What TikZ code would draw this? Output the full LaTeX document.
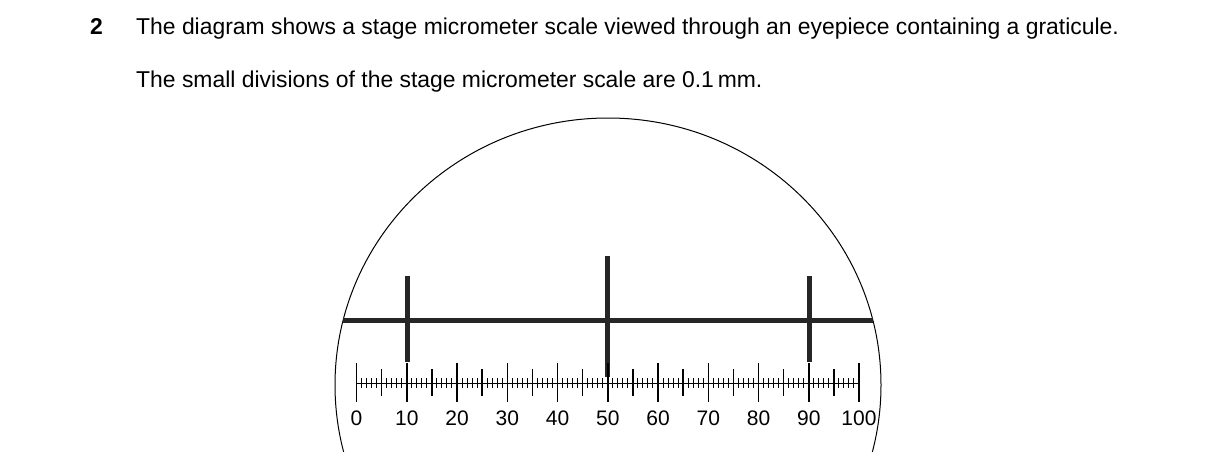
\documentclass[tikz,border=0pt]{standalone}
\usepackage{fontspec}
\setmainfont{Liberation Sans}
\begin{document}
\begin{tikzpicture}[x=1pt, y=-1pt, font=\fontsize{22.9}{27}\selectfont,
    every node/.style={inner sep=0pt},
    graticule/.style={line width=5pt, color=black!85},
    tick/.style={line width=1pt}]
    \useasboundingbox (0,0) rectangle (1216,451);
    \clip (0,0) rectangle (1216,451);

    \node[anchor=base west, font=\fontsize{22.9}{27}\selectfont\bfseries] (qnum) at (90,34) {2};
    \node[anchor=base west] (line1) at (136,34) {The diagram shows a stage micrometer scale viewed through an eyepiece containing a graticule.};
    \node[anchor=base west] (line2) at (136,87) {The small divisions of the stage micrometer scale are 0.1\,mm.};

    % field of view
    \draw[line width=1pt] (608,385) ellipse [x radius=273, y radius=267];

    % graticule
    \draw[graticule] (343,320) -- (873,320);
    \draw[graticule] (407,276) -- (407,362);
    \draw[graticule] (607,256) -- (607,377);
    \draw[graticule] (809,276) -- (809,362);

    % stage micrometer
    \draw[tick] (356.5,383) -- (859,383);
    \foreach \i in {0,...,100} {
        \pgfmathsetmacro{\xx}{356.5+5.025*\i}
        \draw[tick] (\xx,378) -- (\xx,388);
    }
    \foreach \i in {5,15,...,95} {
        \pgfmathsetmacro{\xx}{356.5+5.025*\i}
        \draw[line width=1.5pt] (\xx,369) -- (\xx,396);
    }
    \foreach \i in {0,10,...,100} {
        \pgfmathsetmacro{\xx}{356.5+5.025*\i}
        \draw[line width=1.5pt] (\xx,363) -- (\xx,402);
        \node[font=\fontsize{21}{25}\selectfont] (n\i) at (\xx,418) {\i};
    }
\end{tikzpicture}
\end{document}
